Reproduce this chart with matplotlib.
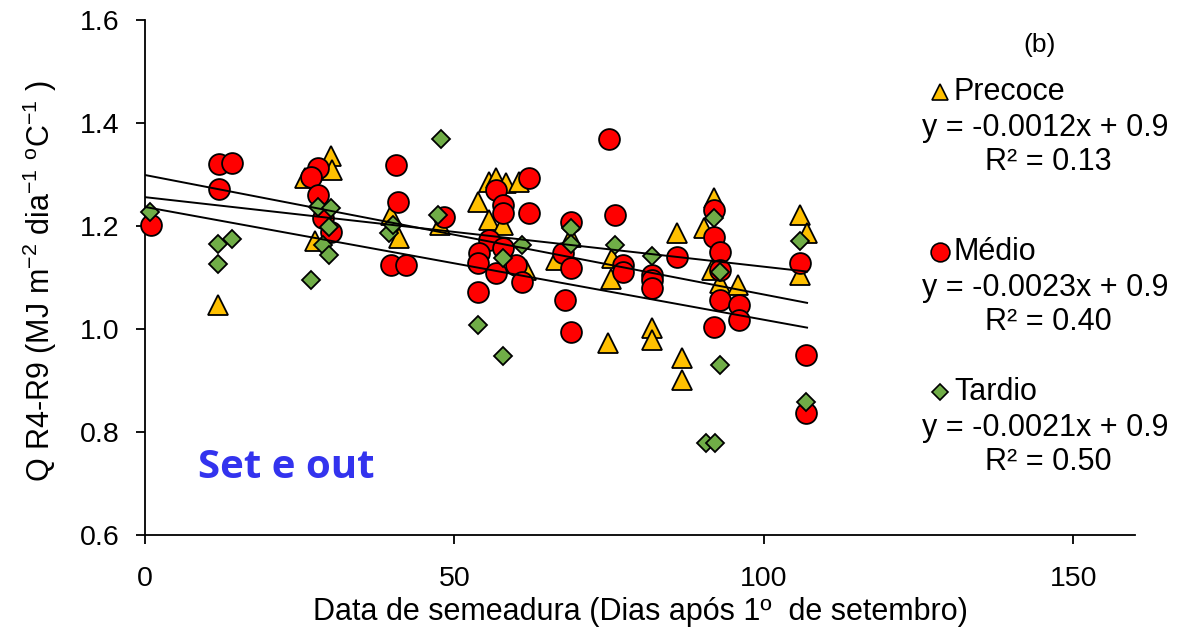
import matplotlib
matplotlib.use("Agg")
import matplotlib.pyplot as plt
import numpy as np

plt.rcParams['font.family'] = ['Liberation Sans', 'DejaVu Sans']
plt.rcParams['mathtext.fontset'] = 'custom'
plt.rcParams['mathtext.rm'] = 'Liberation Sans'
plt.rcParams['mathtext.it'] = 'Liberation Sans:italic'

# ---- data ----
precoce_x = [11.8, 30.1, 30.3, 25.8, 27.4, 39.8, 41.1, 47.6, 55.6, 56.7, 58.3, 60.5,
             53.8, 55.6, 57.8, 61.5, 66.4, 68.8, 74.9, 75.5, 75.3, 81.9, 81.9, 85.9,
             86.8, 86.8, 91.9, 90.3, 91.7, 93.0, 95.9, 105.8, 107.0, 105.8]
precoce_y = [1.047, 1.335, 1.309, 1.293, 1.170, 1.221, 1.176, 1.202, 1.286, 1.293, 1.283, 1.286,
             1.247, 1.212, 1.202, 1.115, 1.134, 1.179, 0.972, 1.137, 1.098, 1.001, 0.979, 1.186,
             0.943, 0.901, 1.254, 1.196, 1.115, 1.089, 1.085, 1.221, 1.186, 1.105]

medio_x = [0.9, 12.0, 14.0, 12.0, 28.0, 26.9, 28.0, 28.8, 30.1, 40.6, 40.9, 39.8, 42.2,
           48.4, 56.7, 62.1, 57.8, 57.8, 62.0, 55.6, 57.8, 54.0, 53.8, 60.0, 56.7, 61.0,
           53.8, 68.8, 67.5, 68.8, 67.9, 68.9, 75.0, 76.0, 77.2, 77.2, 81.9, 81.9, 81.9,
           85.9, 91.9, 91.9, 93.0, 93.0, 93.0, 92.0, 96.0, 96.0, 105.9, 106.8, 106.8]
medio_y = [1.202, 1.320, 1.322, 1.271, 1.312, 1.296, 1.260, 1.215, 1.189, 1.318, 1.247, 1.124, 1.124,
           1.218, 1.270, 1.293, 1.240, 1.225, 1.225, 1.173, 1.157, 1.147, 1.128, 1.124, 1.108, 1.092,
           1.072, 1.208, 1.147, 1.118, 1.056, 0.995, 1.368, 1.221, 1.124, 1.111, 1.105, 1.095, 1.079,
           1.140, 1.231, 1.179, 1.150, 1.115, 1.056, 1.003, 1.047, 1.017, 1.129, 0.950, 0.837]

tardio_x = [0.8, 11.8, 14.0, 11.8, 28.0, 30.1, 29.8, 28.8, 29.8, 26.9, 47.9, 39.5, 40.0,
            47.3, 61.0, 57.8, 53.8, 57.8, 68.8, 68.8, 76.0, 81.9, 91.9, 93.0, 92.9, 90.7,
            92.1, 105.8, 106.8]
tardio_y = [1.228, 1.166, 1.174, 1.126, 1.237, 1.234, 1.199, 1.163, 1.144, 1.095, 1.368, 1.186, 1.202,
            1.221, 1.163, 1.137, 1.008, 0.948, 1.196, 1.166, 1.163, 1.142, 1.215, 1.111, 0.930, 0.779,
            0.779, 1.170, 0.859]

# trend lines (intercept, slope) as drawn in the reference
trend_x_range = [0, 107]
trend_intercepts = {'Precoce': 1.256, 'Médio': 1.299, 'Tardio': 1.237}
trend_slopes = {'Precoce': -0.00135, 'Médio': -0.00232, 'Tardio': -0.00219}

series_names = ['Precoce', 'Médio', 'Tardio']
equations = ['y = -0.0012x + 0.9', 'y = -0.0023x + 0.9', 'y = -0.0021x + 0.9']
r2_labels = ['R² = 0.13', 'R² = 0.40', 'R² = 0.50']

x_ticks = [0, 50, 100, 150]
y_ticks = [0.6, 0.8, 1.0, 1.2, 1.4, 1.6]

# ---- styles ----
col_p = '#FFC000'
col_m = '#FF0000'
col_t = '#70AD47'

W, H = 1185, 632
fig = plt.figure(figsize=(W / 100, H / 100), dpi=100)
ax = fig.add_axes([145 / W, 1 - 535 / H, (1135 - 145) / W, (535 - 20) / H])

ax.plot(precoce_x, precoce_y, ls='none', marker='^', ms=14, mfc=col_p, mec='black',
        mew=1.3, clip_on=False, zorder=3)
ax.plot(medio_x, medio_y, ls='none', marker='o', ms=15, mfc=col_m, mec='black',
        mew=1.3, clip_on=False, zorder=4)
ax.plot(tardio_x, tardio_y, ls='none', marker='D', ms=9.5, mfc=col_t, mec='black',
        mew=1.3, clip_on=False, zorder=5)

xs = np.array(trend_x_range, dtype=float)
for name in series_names:
    ax.plot(xs, trend_intercepts[name] + trend_slopes[name] * xs, color='black',
            lw=1.4, zorder=6)

ax.set_xlim(0, 160)
ax.set_ylim(0.6, 1.6)
ax.set_xticks(x_ticks)
ax.set_yticks(y_ticks)
ax.set_yticklabels([f'{v:.1f}' for v in y_ticks])
ax.tick_params(axis='both', direction='out', length=6.5, width=1.3, labelsize=20.5,
               colors='black')
ax.tick_params(axis='y', pad=12)
ax.tick_params(axis='x', pad=15.5)
for s in ['top', 'right']:
    ax.spines[s].set_visible(False)
for s in ['left', 'bottom']:
    ax.spines[s].set_linewidth(1.3)
    ax.spines[s].set_color('black')

ax.set_xlabel('Data de semeadura (Dias após 1º  de setembro)', fontsize=22, va='center')
ax.xaxis.set_label_coords(0.5, (535 - 612) / 515)
ax.set_ylabel(r'Q R4-R9 (MJ m$^{\mathrm{-2}}$ dia$^{\mathrm{-1}}$ $^{\mathrm{o}}$C$^{\mathrm{-1}}$ )',
              fontsize=22, va='center')
ax.yaxis.set_label_coords((40 - 145) / 990, (535 - 281) / 515)

fig.text(198 / W, 1 - 468 / H, 'Set e out', fontsize=29, fontweight='bold',
         color='#3333EE', family=['Open Sans', 'DejaVu Sans'], va='center', ha='left')

# ---- legend-like annotations ----
lax = fig.add_axes([0, 0, 1, 1], facecolor='none')
lax.set_xlim(0, W)
lax.set_ylim(H, 0)
lax.axis('off')

fig.text(1040 / W, 1 - 45 / H, '(b)', fontsize=19, ha='center', va='center')
name_y = [92, 252, 392]
eq_y = [128, 288, 428]
r2_y = [162, 322, 462]
markers = [('^', col_p, 12), ('o', col_m, 13.5), ('D', col_t, 8.5)]
for i, name in enumerate(series_names):
    m, c, ms = markers[i]
    lax.plot([940], [name_y[i]], marker=m, ms=ms, mfc=c, mec='black', mew=1.2, ls='none')
    fig.text(954 / W, 1 - name_y[i] / H, name, fontsize=22, ha='left', va='center')
    fig.text(1045 / W, 1 - eq_y[i] / H, equations[i], fontsize=22, ha='center', va='center')
    fig.text(1048 / W, 1 - r2_y[i] / H, r2_labels[i], fontsize=22, ha='center', va='center')

fig.savefig('out.png', dpi=100)
